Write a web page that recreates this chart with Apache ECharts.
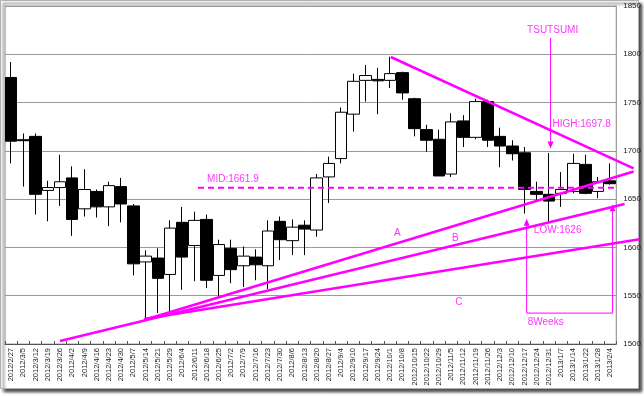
<!DOCTYPE html>
<html><head><meta charset="utf-8">
<script src="https://cdn.jsdelivr.net/npm/echarts@6/dist/echarts.min.js"></script>
<style>html,body{margin:0;padding:0;background:#fff;} #c{width:644px;height:396px;}</style>
</head><body><div id="c"></div>
<script>
// ---- data ----
const categories = ['2012/2/27','2012/3/5','2012/3/12','2012/3/19','2012/3/26','2012/4/2','2012/4/9','2012/4/16','2012/4/23','2012/4/30',
'2012/5/7','2012/5/14','2012/5/21','2012/5/29','2012/6/4','2012/6/11','2012/6/18','2012/6/25','2012/7/2','2012/7/9',
'2012/7/16','2012/7/23','2012/7/30','2012/8/6','2012/8/13','2012/8/20','2012/8/27','2012/9/4','2012/9/10','2012/9/17',
'2012/9/24','2012/10/1','2012/10/8','2012/10/15','2012/10/22','2012/10/29','2012/11/5','2012/11/12','2012/11/19','2012/11/26',
'2012/12/3','2012/12/10','2012/12/17','2012/12/24','2012/12/31','2013/1/7','2013/1/14','2013/1/22','2013/1/28','2013/2/4'];
const opens  = [1776,1711.5,1715,1659,1662,1672,1640,1658,1642,1663, 1643,1585,1589,1572,1626,1602,1629,1571,1599,1581, 1590,1581,1627,1607,1623,1618,1673,1692,1738,1773, 1774,1773,1781,1754,1722,1712,1676,1731,1714,1751, 1715,1705,1698,1658,1655,1656,1658,1686,1658,1669];
const closes = [1710,1710.5,1655,1662,1668,1629,1660,1642,1664,1645, 1583,1591,1568,1620,1590,1628,1566,1603,1577,1591, 1582,1617,1608,1621,1619,1672,1687,1740,1772,1778, 1772.5,1780,1760,1723,1711,1674,1730,1714,1751,1711, 1705,1697,1660,1655,1648,1660,1687,1656,1668,1666];
const lows   = [1687,1663,1634,1627,1643,1612,1632,1631,1622,1626, 1571,1527,1532,1532,1556,1565,1558,1549,1563,1559, 1566,1557,1587,1592,1592,1611,1646,1687,1720,1751, 1738,1765,1753,1715,1699,1674,1673,1704,1712,1704, 1683,1690,1635,1647,1626,1642,1656,1655,1651,1665];
const highs  = [1792,1718,1718,1669,1696,1684,1681,1660,1668,1672, 1645,1597,1599,1628,1642,1637,1634,1608,1608,1601, 1598,1628,1632,1629,1628,1676,1694,1745,1780,1789, 1786,1797.5,1782,1755,1727,1722,1739,1737,1754,1753, 1724,1711,1704,1668,1697.8,1678,1697,1696,1673,1687];
const yMin = 1500, yMax = 1850, yStep = 50;

// annotation geometry in data space: [category position, value]
const trendDown = [[30.97,1797.2],[50.77,1681.9]];
const trendA = [[10.84,1524.9],[50.77,1678.6]];
const trendB = [[3.99,1503.1],[50.04,1645.0]];
const trendC = [[10.84,1525.9],[51.26,1608.4]];
const midValue = 1661.9;
const midSpan = [15.24, 49.5];
const tsutsumiArrow = [[44.0,1817],[44.0,1706]];
const weeksBracket = [[42.05,1626],[42.05,1532],[49.06,1532],[49.06,1641]];
const noteText = ['TSUTSUMI','HIGH:1697.8','MID:1661.9','LOW:1626','A','B','C','8Weeks'];
const noteX = [44.17,46.54,18.09,44.58,31.5,36.23,36.51,43.6];
const noteY = [1825.1,1727.8,1670.9,1618,1614.9,1609.8,1543.5,1522.8];

// ---- chart ----
const MAG = '#FF00FF';
const FONT = 'Arial, "Liberation Sans", sans-serif';
const GL = 5, GR = 26, GT = 6, GB = 52, W = 644;
const band = (W - GL - GR) / categories.length;
const annoMax = -0.5 + (W - GL) / band;   // wider overlay grid so lines may run past the plot edge
const chart = echarts.init(document.getElementById('c'), null, {renderer:'canvas'});
const candleData = opens.map((o,i)=>[o, closes[i], lows[i], highs[i]]);
function trend(pts){
  return {type:'line', xAxisIndex:1, yAxisIndex:1, data:pts, symbol:'none', clip:false, z:5,
    lineStyle:{color:MAG, width:2.5}, silent:true};
}
const arrowEnd = (p, rot) => ({value:p, symbol:'triangle', symbolSize:[6,7], symbolRotate:rot, itemStyle:{color:MAG}});
chart.setOption({
  animation:false,
  backgroundColor:'transparent',
  textStyle:{fontFamily:FONT},
  graphic:{elements:[
    {type:'rect', z:-100, shape:{x:0.5,y:0.5,width:638,height:388},
     style:{fill:'#fff', stroke:'#b0b0b0', lineWidth:1, shadowBlur:3, shadowOffsetX:3, shadowOffsetY:3, shadowColor:'rgba(0,0,0,0.75)'}}
  ]},
  grid:[
    {left:GL, right:GR, top:GT, bottom:GB, show:true, borderColor:'#a0a0a0', borderWidth:1, backgroundColor:'transparent'},
    {left:GL, right:0, top:GT, bottom:GB, show:false}
  ],
  xAxis:[
    {type:'category', gridIndex:0, data:categories, boundaryGap:true,
     axisLine:{lineStyle:{color:'#555', width:1}},
     axisTick:{show:true, inside:true, length:3, lineStyle:{color:'#555'}},
     axisLabel:{rotate:90, interval:0, fontSize:7.5, color:'#222', margin:4, fontFamily:FONT},
     splitLine:{show:false}},
    {type:'value', gridIndex:1, min:-0.5, max:annoMax, show:false}
  ],
  yAxis:[
    {type:'value', gridIndex:0, position:'right', min:yMin, max:yMax, interval:yStep,
     axisLine:{show:true, lineStyle:{color:'#a0a0a0'}},
     axisTick:{show:false},
     axisLabel:{fontSize:8, color:'#222', margin:7, fontFamily:FONT, formatter:v=>String(v)},
     splitLine:{show:true, lineStyle:{color:'#999', width:1}}},
    {type:'value', gridIndex:1, min:yMin, max:yMax, show:false}
  ],
  series:[
    {type:'candlestick', xAxisIndex:0, yAxisIndex:0, data:candleData, barWidth:12, z:3,
     itemStyle:{color:'#fff', color0:'#000', borderColor:'#000', borderColor0:'#000', borderWidth:1}},
    trend(trendDown), trend(trendA), trend(trendB), trend(trendC),
    {type:'line', xAxisIndex:1, yAxisIndex:1, data:[[midSpan[0],midValue],[midSpan[1],midValue]], symbol:'none', z:4, clip:false,
     lineStyle:{color:MAG, width:2, type:[6,4]}, silent:true},
    {type:'line', xAxisIndex:1, yAxisIndex:1, z:6, clip:false, silent:true,
     data:[{value:tsutsumiArrow[0], symbol:'none'}, arrowEnd(tsutsumiArrow[1],180)],
     showSymbol:true, lineStyle:{color:MAG, width:1}},
    {type:'line', xAxisIndex:1, yAxisIndex:1, z:6, clip:false, silent:true,
     data:[arrowEnd(weeksBracket[0],0), {value:weeksBracket[1],symbol:'none'}, {value:weeksBracket[2],symbol:'none'}, arrowEnd(weeksBracket[3],0)],
     showSymbol:true, lineStyle:{color:MAG, width:1}},
    {type:'scatter', xAxisIndex:1, yAxisIndex:1, z:7, clip:false, silent:true, symbolSize:1,
     itemStyle:{color:'rgba(255,255,255,0)'},
     data:noteText.map((t,i)=>({name:t, value:[noteX[i], noteY[i]]})),
     label:{show:true, position:'inside', formatter:p=>p.name, color:MAG, fontSize:10, fontFamily:FONT}}
  ]
});
</script></body></html>
